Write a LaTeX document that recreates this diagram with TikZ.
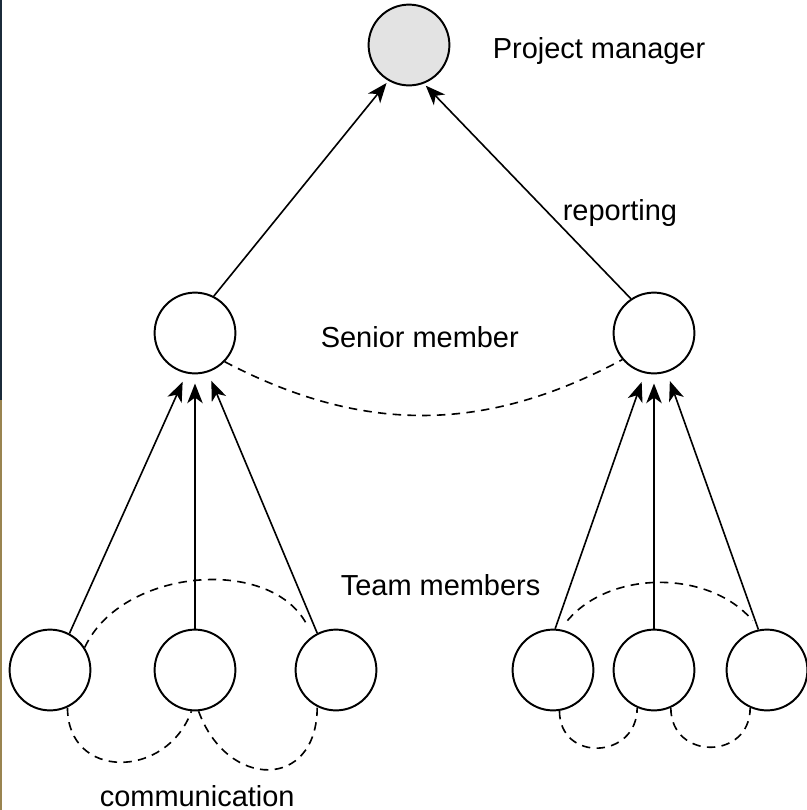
\documentclass[tikz,border=0pt]{standalone}
\usepackage{fontspec}
\setmainfont{Liberation Sans}
\usetikzlibrary{arrows.meta,positioning}
\definecolor{pmgray}{HTML}{E3E3E3}
\definecolor{stripnavy}{HTML}{1B2B3A}
\definecolor{stripbrown}{HTML}{998450}

\begin{document}
\begin{tikzpicture}[line width=1.15pt,on grid,
  >={Stealth[length=14pt,width=11pt,inset=4pt]},
  member/.style={circle,draw,line width=1.4pt,minimum size=2.02cm,inner sep=0pt},
  lbl/.style={inner sep=0pt,anchor=base west,font=\fontsize{20.6}{24}\selectfont},
  talk/.style={dash pattern=on 6pt off 4.5pt}]
\useasboundingbox (0,0) rectangle (20.175,-20.25);
\fill[stripnavy] (0,0) rectangle (0.05,-10);
\fill[stripbrown] (0,-10) rectangle (0.05,-20.25);

\node[member,fill=pmgray] (1) at (10.225,-1.125) {};
 \node[member] (2) [below left=7.2cm and 5.35cm of 1] {};
 \node[member] (3) [below right=7.2cm and 6.125cm of 1] {};
  \node[member] (4) [below left=8.425cm and 3.625cm of 2] {};
  \node[member] (5) [below=8.425cm of 2] {};
  \node[member] (6) [below right=8.425cm and 3.525cm of 2] {};
  \node[member] (7) [below left=8.425cm and 2.525cm of 3] {};
  \node[member] (8) [below=8.425cm of 3] {};
  \node[member] (9) [below right=8.425cm and 2.825cm of 3] {};

\node[lbl] (pm) at (12.3,-1.45) {Project manager};
\node[lbl] (rep) at (14.05,-5.5) {reporting};
\node[lbl] (senior) at (8.0,-8.675) {Senior member};
\node[lbl] (team) at (8.5,-14.875) {Team members};
\node[lbl] (comm) at (2.475,-20.15) {communication};

	\draw[->,shorten >=2pt] (2.63) -- (1.240);
	\draw[->,shorten >=2pt] (3.124) -- (1.291);
	\draw[->,shorten >=6.5pt] (4.62) -- (2.-102);
	\draw[->,shorten >=6.5pt] (5.90) -- (2.-90);
	\draw[->,shorten >=6.5pt] (6.117) -- (2.-72);
	\draw[->,shorten >=6.5pt] (7.87) -- (3.-103);
	\draw[->,shorten >=6.5pt] (8.90) -- (3.-90);
	\draw[->,shorten >=6.5pt] (9.102) -- (3.-72);
	\path[talk] (2.-44) edge[bend right=28] (3.-140)
	     (4.33) edge[out=65,in=115,shorten >=7pt] (6.125)
	     (7.80) edge[out=50,in=130,shorten <=8pt,shorten >=8pt] (9.100)
	     (4.-65) edge[out=-90,in=-110,looseness=1.5] (5.-95)
	     (5.-85) edge[out=-70,in=-90,looseness=1.8] (6.-117)
	     (7.-81) edge[out=-90,in=-90,looseness=1.7] (8.-114)
	     (8.-66) edge[out=-90,in=-90,looseness=1.7] (9.-114);
\end{tikzpicture}
\end{document}
